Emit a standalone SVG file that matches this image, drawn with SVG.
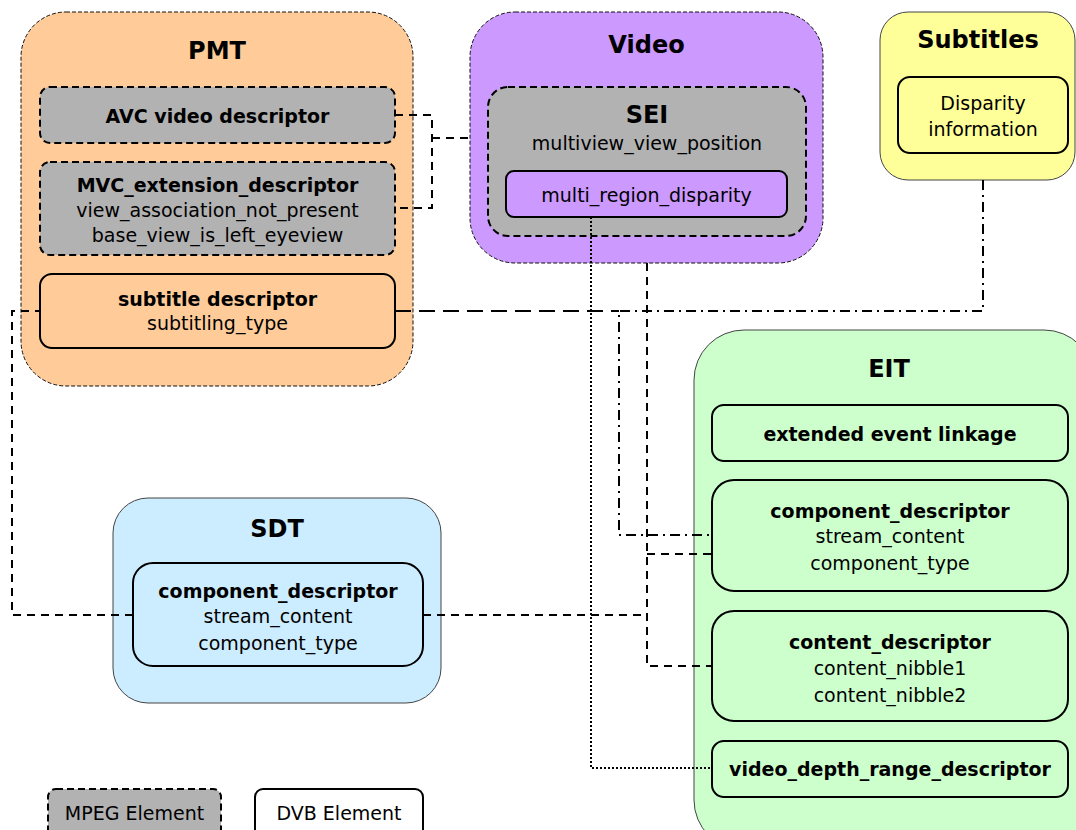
<svg xmlns="http://www.w3.org/2000/svg" width="1076" height="830" viewBox="0 0 1076 830">
<style>
text{font-family:"DejaVu Sans","Verdana",sans-serif;text-anchor:middle;fill:#000}
.t{font-size:24px;font-weight:bold}
.b{font-size:19px;font-weight:bold}
.r{font-size:19px}
.grpD{stroke:#111;stroke-width:1;stroke-dasharray:4 2}
.grpS{stroke:#444;stroke-width:1}
.mpeg{fill:#B2B2B2;stroke:#000;stroke-width:2;stroke-dasharray:7 4}
.dvb{stroke:#000;stroke-width:2}
.c{fill:none;stroke:#000;stroke-width:2}
.dash{stroke-dasharray:8 6}
.long{stroke-dasharray:16 8}
.dd{stroke-dasharray:10 5 2 5}
.dot{stroke-dasharray:2 2}
</style>
<rect width="1076" height="830" fill="#fff"/>
<g id="PMT">
<rect x="21" y="12" width="392" height="374" rx="45" fill="#FFCC99" class="grpD"/>
<text class="t" x="217" y="59">PMT</text>
</g>
<g id="AVC">
<rect x="40" y="87" width="355" height="56" rx="10" class="mpeg"/>
<text class="b" x="217.5" y="123">AVC video descriptor</text>
</g>
<g id="MVC">
<rect x="40" y="162" width="355" height="93" rx="10" class="mpeg"/>
<text class="b" x="217.5" y="192">MVC_extension_descriptor</text>
<text class="r" x="217.5" y="217">view_association_not_present</text>
<text class="r" x="217.5" y="242">base_view_is_left_eyeview</text>
</g>
<g id="subtitle_descriptor">
<rect x="40" y="274" width="355" height="74" rx="12" fill="#FFCC99" class="dvb"/>
<text class="b" x="217.5" y="306">subtitle descriptor</text>
<text class="r" x="217.5" y="330">subtitling_type</text>
</g>
<g id="Video">
<rect x="470" y="12" width="353" height="251" rx="45" fill="#CC99FF" class="grpD"/>
<text class="t" x="646.5" y="53">Video</text>
</g>
<g id="SEI">
<rect x="488" y="87" width="318" height="149" rx="20" class="mpeg"/>
<text class="t" x="647" y="123">SEI</text>
<text class="r" x="647" y="150">multiview_view_position</text>
</g>
<g id="multi_region_disparity">
<rect x="506" y="171" width="281" height="46" rx="8" fill="#CC99FF" class="dvb"/>
<text class="r" x="646.5" y="202">multi_region_disparity</text>
</g>
<g id="Subtitles">
<rect x="880" y="12" width="195" height="168" rx="28" fill="#FFFF99" class="grpS"/>
<text class="t" x="978" y="48">Subtitles</text>
</g>
<g id="Disparity">
<rect x="898" y="77" width="170" height="76" rx="12" fill="#FFFF99" class="dvb"/>
<text class="r" x="983" y="110">Disparity</text>
<text class="r" x="983" y="136">information</text>
</g>
<g id="EIT">
<rect x="694" y="330" width="400" height="520" rx="50" fill="#CCFFCC" class="grpS"/>
<text class="t" x="889" y="377">EIT</text>
</g>
<g id="extended_event_linkage">
<rect x="712" y="405" width="356" height="56" rx="12" fill="#CCFFCC" class="dvb"/>
<text class="b" x="890" y="441">extended event linkage</text>
</g>
<g id="EIT_component_descriptor">
<rect x="712" y="480" width="356" height="111" rx="22" fill="#CCFFCC" class="dvb"/>
<text class="b" x="890" y="518">component_descriptor</text>
<text class="r" x="890" y="543">stream_content</text>
<text class="r" x="890" y="570">component_type</text>
</g>
<g id="content_descriptor">
<rect x="712" y="611" width="356" height="110" rx="22" fill="#CCFFCC" class="dvb"/>
<text class="b" x="890" y="649">content_descriptor</text>
<text class="r" x="890" y="675">content_nibble1</text>
<text class="r" x="890" y="702">content_nibble2</text>
</g>
<g id="video_depth_range_descriptor">
<rect x="712" y="741" width="356" height="56" rx="12" fill="#CCFFCC" class="dvb"/>
<text class="b" x="890" y="776">video_depth_range_descriptor</text>
</g>
<g id="SDT">
<rect x="113" y="498" width="328" height="205" rx="35" fill="#CCECFF" class="grpS"/>
<text class="t" x="277" y="537">SDT</text>
</g>
<g id="SDT_component_descriptor">
<rect x="133" y="563" width="290" height="103" rx="20" fill="#CCECFF" class="dvb"/>
<text class="b" x="278" y="598">component_descriptor</text>
<text class="r" x="278" y="623">stream_content</text>
<text class="r" x="278" y="650">component_type</text>
</g>
<g id="legend_mpeg">
<rect x="48" y="789" width="173" height="56" rx="8" class="mpeg"/>
<text class="r" x="134.5" y="820">MPEG Element</text>
</g>
<g id="legend_dvb">
<rect x="255" y="789" width="168" height="56" rx="8" fill="#fff" class="dvb"/>
<text class="r" x="339" y="820">DVB Element</text>
</g>
<g id="connectors">
<path class="c dash" d="M395,115 H432 V208 H395"/>
<path class="c dash" d="M432,138 H470"/>
<path class="c long" d="M395,311 H619"/>
<path class="c dd" d="M983,180 V311 H619 V535 H712"/>
<path class="c dash" d="M647,263 V666 H712"/>
<path class="c dash" d="M647,554 H712"/>
<path class="c dash" d="M423,615 H647"/>
<path class="c dash" d="M133,615 H12 V311 H40"/>
<path class="c dot" d="M591,217 V768 H712"/>
</g>
</svg>
